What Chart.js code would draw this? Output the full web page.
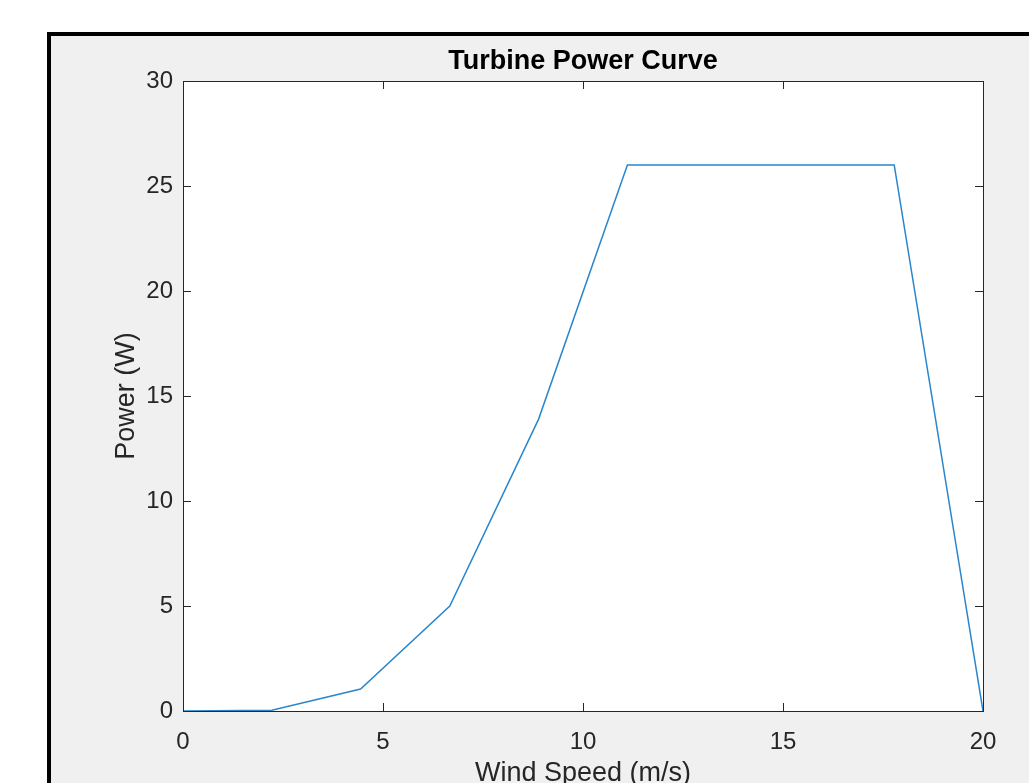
<!DOCTYPE html>
<html>
<head>
<meta charset="utf-8">
<script src="https://cdn.jsdelivr.net/npm/chart.js@4.4.0/dist/chart.umd.min.js"></script>
<style>
  html, body { margin: 0; padding: 0; background: #fff; overflow: hidden; width: 1029px; height: 783px; }
  #frame { position: absolute; left: 47px; top: 32px; width: 1100px; height: 900px; border: 4px solid #000; background: #f0f0f0; }
  #c { position: absolute; left: 0; top: 0; }
</style>
</head>
<body>
<div id="frame"></div>
<canvas id="c" width="1029" height="800"></canvas>
<script>
// values
const windSpeed = [0, 2.22, 4.44, 6.67, 8.89, 11.11, 13.33, 15.56, 17.78, 20];
const power = [0, 0.04, 1.05, 5.0, 13.9, 26, 26, 26, 26, 0];

const xTicks = [0, 5, 10, 15, 20];
const yTicks = [0, 5, 10, 15, 20, 25, 30];

const fontFam = '"Liberation Sans", Arial, Helvetica, sans-serif';
const axisColor = '#262626';

// MATLAB style box with inward ticks
const boxPlugin = {
    id: 'box',
    beforeDatasetsDraw(chart) {
        const a = chart.chartArea;
        const ctx = chart.ctx;
        ctx.save();
        ctx.fillStyle = '#ffffff';
        ctx.fillRect(a.left, a.top, a.right - a.left, a.bottom - a.top);
        ctx.restore();
    },
    afterDatasetsDraw(chart) {
        const a = chart.chartArea;
        const ctx = chart.ctx;
        const xs = chart.scales.x, ys = chart.scales.y;
        const len = 8;
        ctx.save();
        ctx.strokeStyle = axisColor;
        ctx.lineWidth = 1;
        ctx.strokeRect(Math.round(a.left) + 0.5, Math.round(a.top) + 0.5,
            Math.round(a.right - a.left), Math.round(a.bottom - a.top));
        ctx.beginPath();
        xTicks.forEach(v => {
            const px = Math.round(xs.getPixelForValue(v)) + 0.5;
            ctx.moveTo(px, a.bottom); ctx.lineTo(px, a.bottom - len);
            ctx.moveTo(px, a.top); ctx.lineTo(px, a.top + len);
        });
        yTicks.forEach(v => {
            const py = Math.round(ys.getPixelForValue(v)) + 0.5;
            ctx.moveTo(a.left, py); ctx.lineTo(a.left + len, py);
            ctx.moveTo(a.right, py); ctx.lineTo(a.right - len, py);
        });
        ctx.stroke();
        ctx.restore();
    }
};

new Chart(document.getElementById('c'), {
    type: 'line',
    data: {
        datasets: [{
            label: 'Power',
            data: windSpeed.map((x, i) => ({ x: x, y: power[i] })),
            borderColor: '#2a86cc',
            borderWidth: 1.5,
            pointRadius: 0,
            tension: 0,
            fill: false
        }]
    },
    options: {
        responsive: false,
        animation: false,
        devicePixelRatio: 1,
        layout: {
            padding: { left: 110, right: 46, top: 0, bottom: 0 }
        },
        plugins: {
            legend: { display: false },
            tooltip: { enabled: false }
        },
        scales: {
            x: {
                type: 'linear',
                min: 0,
                max: 20,
                afterFit(scale) { scale.height = 89; },
                afterBuildTicks(scale) { scale.ticks = xTicks.map(v => ({ value: v })); },
                grid: { display: false, drawTicks: false },
                border: { display: false },
                ticks: {
                    color: axisColor,
                    font: { family: fontFam, size: 24 },
                    padding: 17,
                    maxRotation: 0
                },
                title: {
                    display: true,
                    text: 'Wind Speed (m/s)',
                    color: axisColor,
                    font: { family: fontFam, size: 27 },
                    padding: { top: 0, bottom: 10 }
                }
            },
            // top axis only carries the chart title, centred over the plot box
            x2: {
                type: 'linear',
                position: 'top',
                min: 0,
                max: 20,
                afterFit(scale) { scale.height = 81; },
                grid: { display: false, drawTicks: false },
                border: { display: false },
                ticks: { display: false },
                title: {
                    display: true,
                    text: 'Turbine Power Curve',
                    color: '#000',
                    font: { family: fontFam, size: 27, weight: 'bold' },
                    padding: { top: 45, bottom: 0 }
                }
            },
            y: {
                type: 'linear',
                min: 0,
                max: 30,
                afterFit(scale) { scale.width = 73; },
                afterBuildTicks(scale) { scale.ticks = yTicks.map(v => ({ value: v })); },
                grid: { display: false, drawTicks: false },
                border: { display: false },
                ticks: {
                    color: axisColor,
                    font: { family: fontFam, size: 24 },
                    padding: 10
                },
                title: {
                    display: true,
                    text: 'Power (W)',
                    color: axisColor,
                    font: { family: fontFam, size: 27 },
                    padding: 0
                }
            }
        }
    },
    plugins: [boxPlugin]
});
</script>
</body>
</html>
